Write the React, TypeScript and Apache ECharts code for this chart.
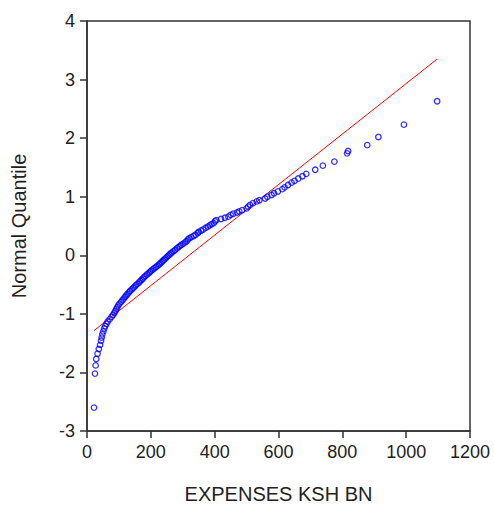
import React, { useEffect, useRef } from "react";
import * as echarts from "echarts";

// Observed expenses (KSH BN), sorted, and their normal quantiles
const expenses: number[] = [
  22, 25, 27, 29, 33, 37, 41, 44, 46, 48, 51, 54, 57, 61, 65, 71, 77, 82, 86, 89,
  92, 95, 98, 102, 107, 111, 115, 119, 123, 127, 131, 135, 140, 145, 149, 153, 158, 163, 167, 171,
  175, 179, 183, 188, 193, 197, 201, 206, 211, 216, 221, 226, 230, 234, 238, 242, 246, 250, 254,
  258, 262, 266, 271, 276, 282, 287, 291, 296, 302, 307, 312, 316, 321, 327, 334, 340, 347, 350,
  357, 364, 372, 379, 384, 390, 397, 401, 405, 420, 432, 443, 450, 458, 470, 477, 486, 500, 505,
  511, 520, 532, 540, 558, 565, 578, 586, 598, 612, 619, 630, 641, 650, 662, 675, 687, 715, 739,
  775, 815, 818, 878, 913, 993, 1097,
];
const quantiles: number[] = [
  -2.6, -2.02, -1.88, -1.77, -1.68, -1.6, -1.53, -1.46, -1.405, -1.35, -1.3, -1.25, -1.21, -1.17, -1.13, -1.09, -1.05, -1.015, -0.98, -0.95,
  -0.915, -0.885, -0.855, -0.825, -0.795, -0.767, -0.74, -0.713, -0.686, -0.66, -0.634, -0.609, -0.584, -0.559, -0.535, -0.511, -0.488, -0.464, -0.441, -0.418,
  -0.396, -0.373, -0.351, -0.329, -0.307, -0.285, -0.264, -0.242, -0.221, -0.199, -0.178, -0.157, -0.136, -0.115, -0.094, -0.073, -0.052, -0.031, -0.01,
  0.01, 0.03, 0.05, 0.07, 0.09, 0.12, 0.14, 0.16, 0.18, 0.2, 0.22, 0.24, 0.27, 0.29, 0.31, 0.33, 0.35, 0.38,
  0.4, 0.42, 0.44, 0.47, 0.49, 0.51, 0.53, 0.55, 0.58, 0.6, 0.62, 0.64, 0.66, 0.69, 0.71, 0.73, 0.75, 0.77, 0.8,
  0.83, 0.86, 0.89, 0.92, 0.94, 0.97, 1.0, 1.03, 1.06, 1.09, 1.13, 1.16, 1.2, 1.24, 1.27, 1.31, 1.35, 1.39, 1.46, 1.53,
  1.6, 1.74, 1.78, 1.88, 2.02, 2.23, 2.63,
];

// Reference (fitted normal) line endpoints
const lineX: number[] = [22, 1097];
const lineY: number[] = [-1.285, 3.35];

const xTicks = { min: 0, max: 1200, interval: 200 };
const yTicks = { min: -3, max: 4, interval: 1 };

export default function App() {
  const ref = useRef<HTMLDivElement>(null);
  useEffect(() => {
    if (!ref.current) return;
    const chart = echarts.init(ref.current, null, { renderer: "svg" });
    const font = "'Liberation Sans', Arial, sans-serif";
    const axisColor = "#333333";
    const textColor = "#222222";
    const points = expenses.map((x, i) => [x, quantiles[i]]);
    const line = lineX.map((x, i) => [x, lineY[i]]);
    chart.setOption({
      animation: false,
      backgroundColor: "#ffffff",
      grid: {
        left: 87,
        right: 24,
        top: 21,
        bottom: 82,
        show: true,
        borderColor: axisColor,
        borderWidth: 1.5,
        backgroundColor: "transparent",
      },
      xAxis: {
        type: "value",
        min: xTicks.min,
        max: xTicks.max,
        interval: xTicks.interval,
        name: "EXPENSES KSH BN",
        nameLocation: "middle",
        nameGap: 53,
        nameTextStyle: { fontFamily: font, fontSize: 20, color: textColor },
        axisLine: { show: true, onZero: false, lineStyle: { color: axisColor, width: 1.5 } },
        axisTick: { show: true, inside: false, length: 7, lineStyle: { color: axisColor, width: 1.5 } },
        axisLabel: {
          fontFamily: font,
          fontSize: 18,
          color: textColor,
          margin: 12,
          formatter: (v: number) => String(v),
        },
        splitLine: { show: false },
      },
      yAxis: {
        type: "value",
        min: yTicks.min,
        max: yTicks.max,
        interval: yTicks.interval,
        name: "Normal Quantile",
        nameLocation: "middle",
        nameGap: 58,
        nameTextStyle: { fontFamily: font, fontSize: 20, color: textColor },
        axisLine: { show: true, onZero: false, lineStyle: { color: axisColor, width: 1.5 } },
        axisTick: { show: true, inside: false, length: 7, lineStyle: { color: axisColor, width: 1.5 } },
        axisLabel: {
          fontFamily: font,
          fontSize: 18,
          color: textColor,
          margin: 12,
          formatter: (v: number) => String(v),
        },
        splitLine: { show: false },
      },
      series: [
        {
          type: "line",
          data: line,
          symbol: "none",
          lineStyle: { color: "#ff0000", width: 1 },
          z: 2,
        },
        {
          type: "scatter",
          data: points,
          symbol: "circle",
          symbolSize: 5.5,
          itemStyle: { color: "none", borderColor: "#0000ff", borderWidth: 1.3 },
          z: 3,
        },
      ],
    });
    return () => chart.dispose();
  }, []);
  return (
    <div
      ref={ref}
      style={{ position: "fixed", left: 0, top: 0, width: 494, height: 513 }}
    />
  );
}
